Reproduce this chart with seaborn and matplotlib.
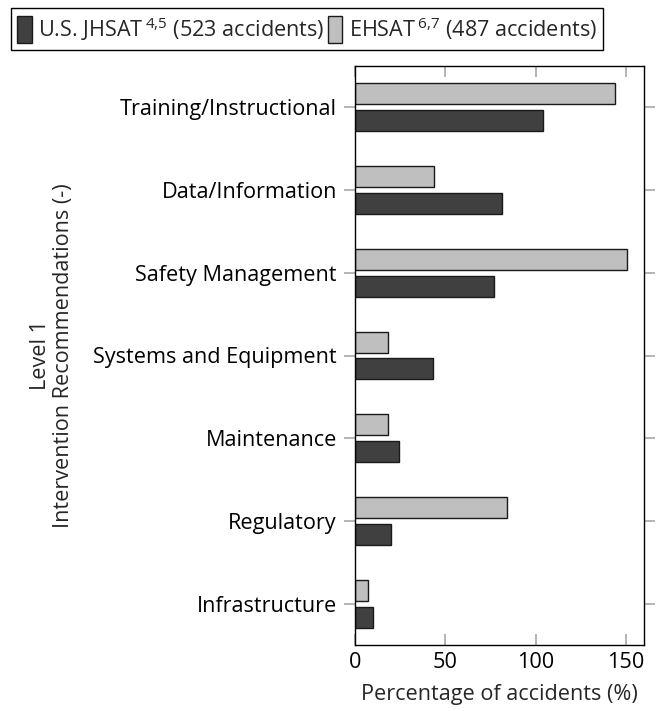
import matplotlib
matplotlib.use("Agg")
import matplotlib.pyplot as plt
import seaborn as sns
import pandas as pd

# ---- data ----
categories = ["Training/Instructional", "Data/Information", "Safety Management",
              "Systems and Equipment", "Maintenance", "Regulatory", "Infrastructure"]
ehsat_values = [143.7, 44.0, 150.7, 18.0, 18.0, 84.1, 7.2]
jhsat_values = [103.9, 81.5, 77.1, 43.0, 24.1, 19.9, 9.9]
series_names = ["EHSAT", "JHSAT"]
legend_labels = ["U.S. JHSAT$\\,^{4{,}5}$ (523 accidents)", "EHSAT$\\,^{6{,}7}$ (487 accidents)"]
x_ticks = [0, 50, 100, 150]
x_label = "Percentage of accidents (%)"
y_label = "Level 1\nIntervention Recommendations (-)"

sns.set_theme(style="white")
plt.rcParams["font.family"] = ["Open Sans", "DejaVu Sans"]
plt.rcParams["mathtext.fontset"] = "custom"
plt.rcParams["mathtext.rm"] = "Open Sans"
plt.rcParams["mathtext.it"] = "Open Sans"
plt.rcParams["mathtext.default"] = "regular"

df = pd.DataFrame({
    "category": categories * 2,
    "value": ehsat_values + jhsat_values,
    "series": [series_names[0]] * len(categories) + [series_names[1]] * len(categories),
})

FS = 15.6
fig = plt.figure(figsize=(6.61, 7.11), dpi=100)
ax = fig.add_axes([355 / 661, 1 - 645 / 711, (644 - 355) / 661, (645 - 66) / 711])

sns.barplot(data=df, y="category", x="value", hue="series", hue_order=series_names,
            order=categories, orient="h", ax=ax,
            palette={"EHSAT": "#bfbfbf", "JHSAT": "#404040"},
            width=0.65, gap=0.22, edgecolor="#1a1a1a", linewidth=1.0,
            saturation=1, errorbar=None)

ax.set_xlim(0, 160)
ax.set_ylim(6.5, -0.5)
ax.set_xticks(x_ticks)
ax.set_xticklabels([str(t) for t in x_ticks], fontsize=FS)
ax.tick_params(axis="y", labelsize=FS)

for s in ax.spines.values():
    s.set_visible(True)
    s.set_color("black")
    s.set_linewidth(1.0)

ax.tick_params(axis="x", direction="in", length=8, width=1.1, color="#a0a0a0",
               top=True, bottom=True, labelcolor="black", pad=5)
ax.tick_params(axis="y", direction="out", length=8, width=1.1, color="#a0a0a0",
               left=True, right=True, labelcolor="black", pad=5)

ax.set_xlabel(x_label, fontsize=FS, labelpad=8)
ax.set_ylabel(y_label, fontsize=FS, va="center", ma="center", linespacing=1.15)
ax.yaxis.set_label_coords((52 - 355) / 289, 0.5)

handles, _ = ax.get_legend_handles_labels()
if ax.get_legend() is not None:
    ax.get_legend().remove()
hmap = dict(zip(series_names, handles))
leg_handles = [hmap["JHSAT"], hmap["EHSAT"]]
leg = fig.legend(leg_handles, legend_labels, loc="upper left",
                 bbox_to_anchor=(10.5 / 661, 1 - 8 / 711), ncol=2, fontsize=FS,
                 frameon=True, fancybox=False, framealpha=1, edgecolor="black",
                 handlelength=0.66, handleheight=1.5, handletextpad=0.3,
                 columnspacing=0.15, borderpad=0.32, borderaxespad=0)
leg.get_frame().set_linewidth(1.0)

fig.savefig("out.png", dpi=100)
